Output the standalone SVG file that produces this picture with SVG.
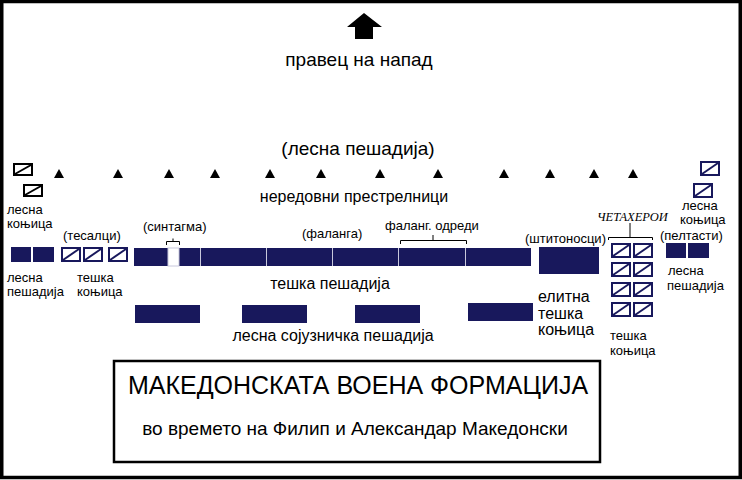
<svg xmlns="http://www.w3.org/2000/svg" width="742" height="480" viewBox="0 0 742 480">
<style>
text{font-family:"Liberation Sans",Arial,sans-serif;fill:#000}
.s13{font-size:13px}
.s16{font-size:16px}
.s19{font-size:19px}
.nav{fill:#18185c}
.cav{fill:#fff;stroke:#18185c;stroke-width:2}
.cavk{fill:#fff;stroke:#000;stroke-width:2}
.dn{stroke:#18185c;stroke-width:2}
.dk{stroke:#000;stroke-width:2}
.br{fill:none;stroke:#000;stroke-width:1}
.sep{stroke:#c8c8dc;stroke-width:1}
</style>
<defs>
<g id="cv"><rect class="cav" x="1" y="1" width="18" height="13"/><line class="dn" x1="2" y1="13" x2="18" y2="2"/></g>
<g id="cvk"><rect class="cavk" x="1" y="1" width="18" height="11"/><line class="dk" x1="2" y1="11" x2="18" y2="2"/></g>
<polygon id="tri" points="0,-5 5,4 -5,4" fill="#000"/>
</defs>
<rect x="1.75" y="1.5" width="738.5" height="476" fill="#fff" stroke="#000" stroke-width="3.5"/>

<g id="attack">
<polygon points="364,13 382,27 373,27 373,39 355,39 355,27 347,27" fill="#000"/>
<text class="s19" x="359" y="66" text-anchor="middle">правец на напад</text>
</g>

<g id="skirmishers">
<text class="s19" x="358" y="155" text-anchor="middle">(лесна пешадија)</text>
<use href="#tri" x="59" y="174"/><use href="#tri" x="118" y="174"/><use href="#tri" x="169" y="174"/>
<use href="#tri" x="215" y="174"/><use href="#tri" x="270" y="174"/><use href="#tri" x="321" y="174"/>
<use href="#tri" x="380" y="174"/><use href="#tri" x="438" y="174"/><use href="#tri" x="504" y="174"/>
<use href="#tri" x="550" y="174"/><use href="#tri" x="594" y="174"/><use href="#tri" x="633" y="174"/>
<text class="s16" x="354" y="202" text-anchor="middle">нередовни престрелници</text>
</g>

<g id="left-light-cavalry">
<use href="#cvk" x="13" y="163"/><use href="#cvk" x="23" y="184"/>
<text class="s13" x="7" y="214">лесна</text>
<text class="s13" x="7" y="228">коњица</text>
</g>

<g id="left-light-infantry">
<rect class="nav" x="11" y="247" width="20" height="15"/>
<rect class="nav" x="33" y="247" width="21" height="15"/>
<text class="s13" x="7" y="282">лесна</text>
<text class="s13" x="7" y="296">пешадија</text>
</g>

<g id="thessalians">
<text class="s13" x="63" y="240">(тесалци)</text>
<use href="#cv" x="61" y="247"/><use href="#cv" x="83" y="247"/><use href="#cv" x="108" y="247"/>
<text class="s13" x="77" y="282">тешка</text>
<text class="s13" x="77" y="296">коњица</text>
</g>

<g id="phalanx">
<rect class="nav" x="134" y="248" width="397" height="18"/>
<line class="sep" x1="200.5" y1="248" x2="200.5" y2="266"/>
<line class="sep" x1="266.5" y1="248" x2="266.5" y2="266"/>
<line class="sep" x1="332.5" y1="248" x2="332.5" y2="266"/>
<line class="sep" x1="398.5" y1="248" x2="398.5" y2="266"/>
<line class="sep" x1="465.5" y1="248" x2="465.5" y2="266"/>
<rect x="168" y="248" width="11" height="18" fill="#fff" stroke="#c8c8dc" stroke-width="1"/>
<text class="s13" x="143" y="231">(синтагма)</text>
<polyline class="br" points="166.5,245 166.5,241.5 179.5,241.5 179.5,245"/>
<line class="br" x1="173" y1="238.5" x2="173" y2="241.5"/>
<text class="s13" x="302" y="238">(фаланга)</text>
<text class="s13" x="385" y="230">фаланг. одреди</text>
<polyline class="br" points="400.5,244 400.5,240.5 466.5,240.5 466.5,244"/>
<line class="br" x1="433" y1="235" x2="433" y2="240.5"/>
<text class="s16" x="330" y="289" text-anchor="middle">тешка пешадија</text>
</g>

<g id="allied-infantry">
<rect class="nav" x="135" y="305" width="65" height="18"/>
<rect class="nav" x="242" y="305" width="65" height="18"/>
<rect class="nav" x="355" y="305" width="65" height="18"/>
<rect class="nav" x="468" y="303" width="65" height="18"/>
<text class="s16" x="333" y="341" text-anchor="middle">лесна сојузничка пешадија</text>
</g>

<g id="hypaspists">
<text class="s13" x="525" y="243">(штитоносци)</text>
<rect class="nav" x="539" y="247" width="60" height="27"/>
<text class="s16" x="538" y="302">елитна</text>
<text class="s16" x="538" y="319">тешка</text>
<text class="s16" x="538" y="335">коњица</text>
</g>

<g id="companions">
<text x="597" y="221" style="font-family:'Liberation Serif','Times New Roman',serif;font-style:italic;font-size:12.5px">ЧЕТАХЕРОИ</text>
<polyline class="br" points="608.5,240 608.5,237.5 652.5,237.5 652.5,240"/>
<line class="br" x1="630" y1="223" x2="630" y2="237.5"/>
<use href="#cv" x="611" y="243"/><use href="#cv" x="633" y="243"/>
<use href="#cv" x="611" y="262"/><use href="#cv" x="633" y="262"/>
<use href="#cv" x="611" y="282"/><use href="#cv" x="633" y="282"/>
<use href="#cv" x="611" y="302"/><use href="#cv" x="633" y="302"/>
<text class="s13" x="610" y="340">тешка</text>
<text class="s13" x="610" y="355">коњица</text>
</g>

<g id="right-light-cavalry">
<use href="#cv" x="700" y="161"/><use href="#cv" x="693" y="183"/>
<text class="s13" x="682" y="210">лесна</text>
<text class="s13" x="680" y="224">коњица</text>
</g>

<g id="peltasts">
<text class="s13" x="660" y="240">(пелтасти)</text>
<rect class="nav" x="666" y="243" width="20" height="15"/>
<rect class="nav" x="688" y="243" width="21" height="15"/>
<text class="s13" x="668" y="275">лесна</text>
<text class="s13" x="667" y="290">пешадија</text>
</g>

<g id="title">
<rect x="114" y="361" width="486" height="101" fill="#fff" stroke="#000" stroke-width="2.5"/>
<text x="358" y="394" text-anchor="middle" style="font-size:25px">МАКЕДОНСКАТА ВОЕНА ФОРМАЦИЈА</text>
<text class="s19" x="355" y="435" text-anchor="middle">во времето на Филип и Александар Македонски</text>
</g>
</svg>
